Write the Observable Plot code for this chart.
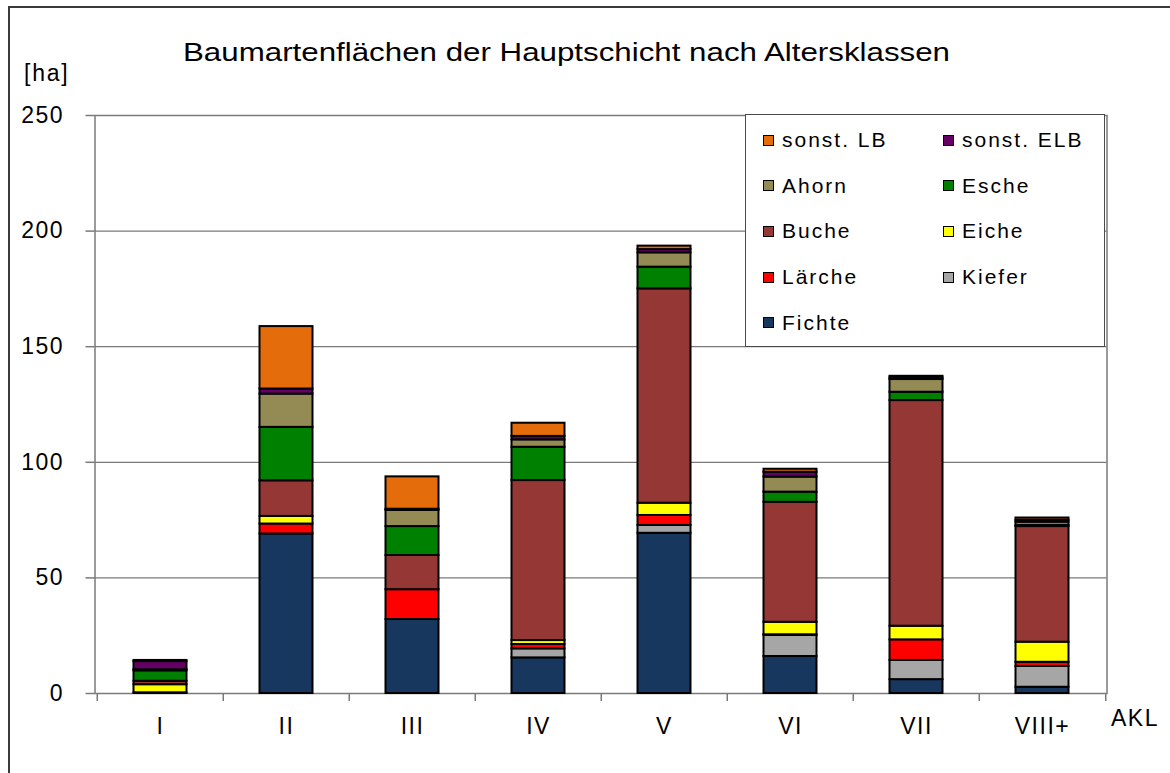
<!DOCTYPE html>
<html>
<head>
<meta charset="utf-8">
<script src="https://cdn.jsdelivr.net/npm/d3@7"></script>
<script src="https://cdn.jsdelivr.net/npm/@observablehq/plot@0.6"></script>
<style>
  html, body { margin: 0; padding: 0; background: #fff; }
  #wrap { position: relative; width: 1170px; height: 773px; overflow: hidden; font-family: "Liberation Sans", Arial, sans-serif; color: #000; }
  #frame { position: absolute; left: 8px; top: 6px; width: 1300px; height: 900px; border-left: 2px solid #3a3a3a; border-top: 2px solid #3a3a3a; }
  #chart { position: absolute; left: 0; top: 0; }
  #title { position: absolute; left: 0; top: 0; }
  #unit { position: absolute; left: 24px; top: 60px; font-size: 23px; letter-spacing: 1.8px; }
  #legend { position: absolute; left: 745px; top: 114px; width: 360px; height: 233px; box-sizing: border-box; border: 1.5px solid #4a4a4a; background: #fff; }
  .item { position: absolute; height: 24px; display: flex; align-items: center; font-size: 21px; letter-spacing: 2px; white-space: nowrap; }
  .sw { width: 11px; height: 11px; box-sizing: border-box; border: 1.5px solid #000; margin-right: 8px; }
</style>
</head>
<body>
<div id="wrap">
  <div id="frame"></div>
  <div id="chart"></div>
  <svg id="title" width="1170" height="100"></svg>
  <div id="unit">[ha]</div>
  <div id="legend"></div>
</div>
<script>
const titleText = "Baumartenflächen der Hauptschicht nach Altersklassen";
const unitText = "[ha]";
const xAxisLabel = "AKL";
const categories = ["I", "II", "III", "IV", "V", "VI", "VII", "VIII+"];
const yTicks = [0, 50, 100, 150, 200, 250];

// stacking order, bottom to top
const species = ["Fichte", "Kiefer", "Lärche", "Eiche", "Buche", "Esche", "Ahorn", "sonst. ELB", "sonst. LB"];
const colors  = ["#17375e", "#a6a6a6", "#ff0000", "#ffff00", "#953735", "#008000", "#948a54", "#660066", "#e46c0a"];

// values in ha per age class I..VIII+
const fichte   = [0,   69.0, 32.0, 15.4, 69.3, 16.0, 6.0,  2.7];
const kiefer   = [0,   0,    0,    3.9,  3.4,  9.1,  8.3,  9.0];
const laerche  = [0.3, 4.3,  12.9, 1.9,  4.3,  0.3,  8.9,  1.8];
const eiche    = [3.5, 3.3,  0,    1.7,  5.3,  5.4,  5.9,  8.7];
const buche    = [1.5, 15.4, 14.8, 69.2, 92.7, 51.9, 97.6, 50.0];
const esche    = [4.5, 23.1, 12.5, 14.4, 9.4,  4.4,  3.6,  0.5];
const ahorn    = [0.5, 14.4, 7.0,  3.2,  6.2,  6.5,  5.5,  1.4];
const sonstELB = [3.5, 2.2,  0.5,  1.5,  1.4,  2.1,  0.7,  0.8];
const sonstLB  = [0.5, 27.0, 14.0, 5.7,  1.5,  1.3,  0.7,  1.0];

const series = [fichte, kiefer, laerche, eiche, buche, esche, ahorn, sonstELB, sonstLB];
const rows = categories.flatMap((c, i) => species.map((s, j) => ({akl: c, art: s, ha: series[j][i]})));

const W = 1170, H = 773, ML = 94.5, MR = 63.5, MT = 115, MB = 80;
const halfStep = (W - ML - MR) / categories.length / 2;

const chart = Plot.plot({
  width: W, height: H,
  marginLeft: ML, marginRight: MR, marginTop: MT, marginBottom: MB,
  style: {background: "transparent", fontFamily: "'Liberation Sans', Arial, sans-serif", color: "#000", overflow: "visible"},
  x: {domain: categories, padding: 0, label: null},
  y: {domain: [0, 250], label: null},
  color: {domain: species, range: colors},
  marks: [
    Plot.ruleY(yTicks.slice(1, -1), {stroke: "#7a7a7a", strokeWidth: 1.2}),
    Plot.frame({stroke: "#7a7a7a", strokeWidth: 1.5}),
    Plot.ruleX(categories, {x: d => d, dx: -halfStep, y1: 0, y2: 0, insetBottom: -8, stroke: "#7a7a7a", strokeWidth: 1.5}),
    Plot.ruleX(categories.slice(-1), {x: d => d, dx: halfStep, y1: 0, y2: 0, insetBottom: -8, stroke: "#7a7a7a", strokeWidth: 1.5}),
    Plot.barY(rows, {x: "akl", y: "ha", fill: "art", order: species, stroke: "#000", strokeWidth: 2, insetLeft: 36.5, insetRight: 36.5}),
    Plot.axisY({ticks: yTicks, tickSize: 9, tickPadding: 22, fontSize: 23, stroke: "#7a7a7a", strokeWidth: 1.5, label: null}),
    Plot.axisX({tickSize: 0, tickPadding: 24, fontSize: 23, label: null}),
    Plot.text([xAxisLabel], {frameAnchor: "bottom-right", dx: 4, dy: 32, textAnchor: "start", fontSize: 23})
  ]
});
d3.select(chart).selectAll("text").style("letter-spacing", "1.5px");
document.getElementById("chart").appendChild(chart);

// title
d3.select("#title").append("text")
  .attr("x", 566.5).attr("y", 61)
  .attr("text-anchor", "middle")
  .attr("font-size", 26)
  .attr("textLength", 767)
  .attr("lengthAdjust", "spacingAndGlyphs")
  .attr("font-family", "'Liberation Sans', Arial, sans-serif")
  .text(titleText);

document.getElementById("unit").textContent = unitText;

// legend (two columns, reversed stacking order)
const legendItems = species.map((s, i) => ({name: s, color: colors[i]})).reverse();
const legend = d3.select("#legend");
legendItems.forEach((d, i) => {
  const col = i % 2, row = Math.floor(i / 2);
  const it = legend.append("div").attr("class", "item")
    .style("left", (17 + col * 180) + "px")
    .style("top", (13 + row * 45.7) + "px");
  it.append("div").attr("class", "sw").style("background", d.color);
  it.append("span").text(d.name);
});
</script>
</body>
</html>
